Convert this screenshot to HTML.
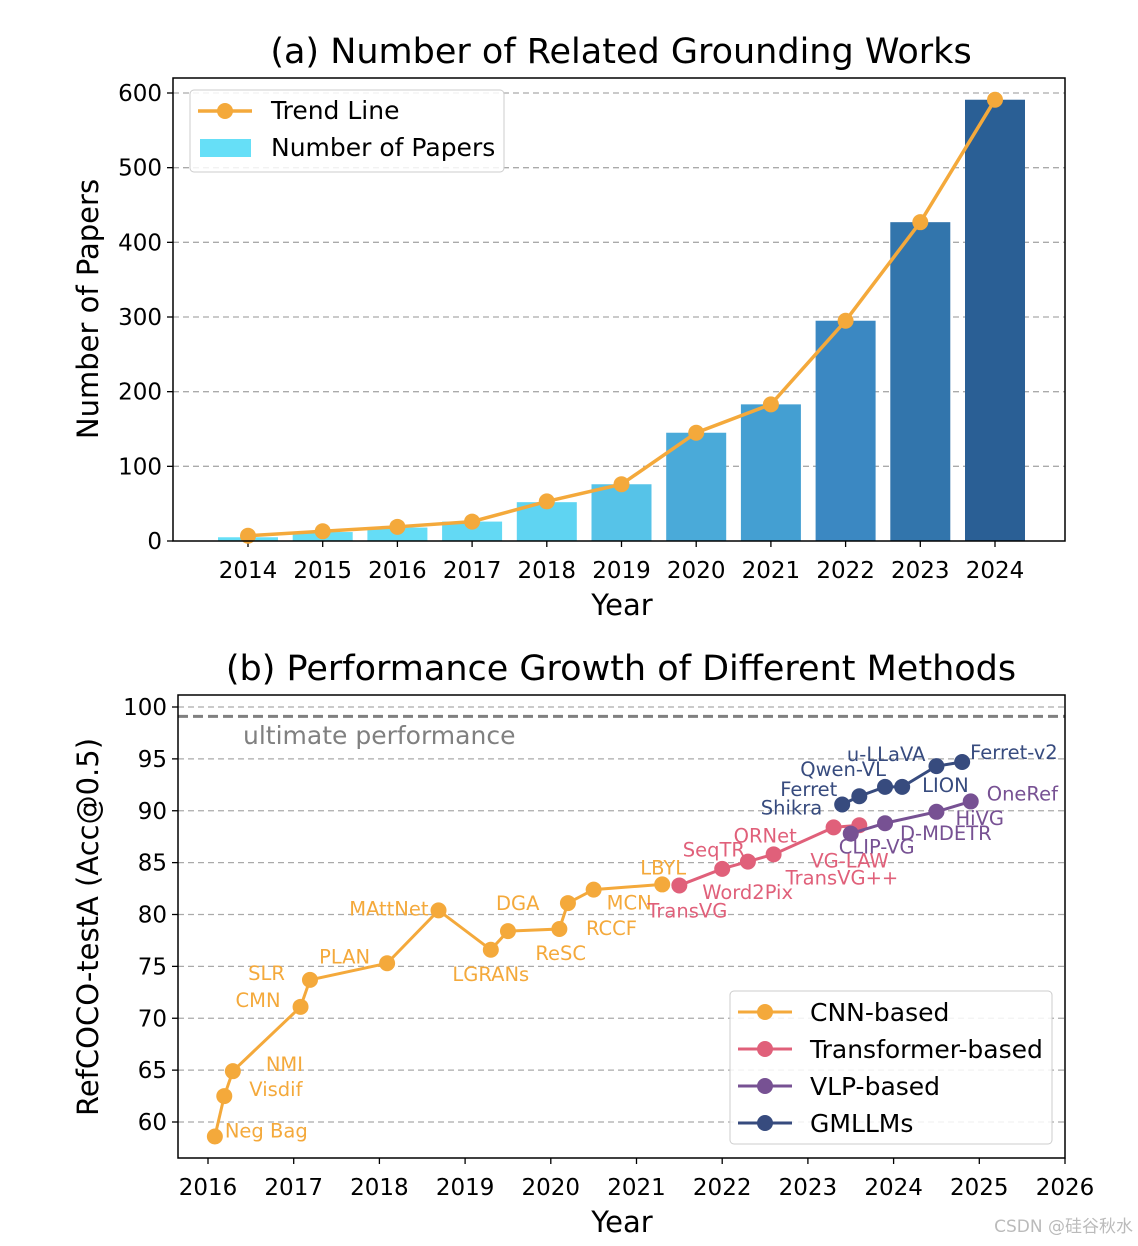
<!DOCTYPE html>
<html><head><meta charset="utf-8"><style>
body{margin:0;background:#fff}
svg{display:block;font-family:"DejaVu Sans","Liberation Sans",sans-serif}
</style></head><body>
<svg id="fig" width="1138" height="1246" viewBox="0 0 1138 1246">
<g id="ca"></g>
<g id="cb"></g>
<text x="1133" y="1232" text-anchor="end" font-size="17" fill="#bbb">CSDN @硅谷秋水</text>
</svg>
<script>
// ---- chart A data
const yearsA = [2014,2015,2016,2017,2018,2019,2020,2021,2022,2023,2024];
const papers = [5,12,18,26,52,76,145,183,295,427,591];
const trend = [7,13,19,26,53,76,145,183,295,427,591];
const ticksA = [0,100,200,300,400,500,600];
const barColors = ['#66dff7','#66dff7','#65ddf6','#63d9f4','#5fd4f2','#56c3e8','#4aaad9','#449fd2','#3b88c2','#3275ac','#2a5f95'];
// ---- chart B data
const cnnNames = ['Neg Bag','Visdif','NMI','CMN','SLR','PLAN','MAttNet','LGRANs','DGA','ReSC','RCCF','MCN','LBYL'];
const cnnX = [2016.08,2016.19,2016.29,2017.08,2017.19,2018.09,2018.69,2019.30,2019.50,2020.10,2020.20,2020.50,2021.30];
const cnnY = [58.6,62.5,64.9,71.1,73.7,75.3,80.4,76.6,78.4,78.6,81.1,82.4,82.9];
const trNames = ['TransVG','Word2Pix','SeqTR','ORNet','TransVG++','VG-LAW'];
const trX = [2021.50,2022.00,2022.30,2022.60,2023.30,2023.60];
const trY = [82.8,84.4,85.1,85.8,88.4,88.6];
const vlpNames = ['CLIP-VG','D-MDETR','HiVG','OneRef'];
const vlpX = [2023.50,2023.90,2024.50,2024.90];
const vlpY = [87.8,88.8,89.9,90.9];
const gmNames = ['Shikra','Ferret','Qwen-VL','LION','u-LLaVA','Ferret-v2'];
const gmX = [2023.40,2023.60,2023.90,2024.10,2024.50,2024.80];
const gmY = [90.6,91.4,92.3,92.3,94.3,94.7];
const ticksBX = [2016,2017,2018,2019,2020,2021,2022,2023,2024,2025,2026];
const ticksBY = [60,65,70,75,80,85,90,95,100];
const ultimate = 99.1;

const NS='http://www.w3.org/2000/svg';
function mk(parent,tag,attrs,text){const e=document.createElementNS(NS,tag);for(const k in attrs)e.setAttribute(k,attrs[k]);if(text!==undefined)e.textContent=text;parent.appendChild(e);return e;}
const TICK=23, AXT=29, TTL=35, LAB=19.5, LEG=25;

// ===== Chart A
const A=document.getElementById('ca');
const ax0=173,ax1=1065,ay0=78,ay1=541;
const xA=y=>248+(y-2014)*74.7;
const yA=v=>541-v*(448/600);
let e;
e=mk(A,'text',{x:621,y:63,'text-anchor':'middle','font-size':TTL},'(a) Number of Related Grounding Works');

ticksA.forEach(t=>{
  if(t>0){e=mk(A,'line',{x1:ax0,x2:ax1,y1:yA(t),y2:yA(t),stroke:'#aaa','stroke-dasharray':'6,4','stroke-width':1.3});
  }
  mk(A,'line',{x1:ax0-6,x2:ax0,y1:yA(t),y2:yA(t),stroke:'#000','stroke-width':1.3});
  e=mk(A,'text',{x:ax0-11,y:yA(t)+8,'text-anchor':'end','font-size':TICK},t);
  
});
yearsA.forEach((yr,i)=>{
  e=mk(A,'rect',{x:xA(yr)-30,y:yA(papers[i]),width:60,height:yA(0)-yA(papers[i]),fill:barColors[i]});
  
  mk(A,'line',{x1:xA(yr),x2:xA(yr),y1:ay1,y2:ay1+6,stroke:'#000','stroke-width':1.3});
  e=mk(A,'text',{x:xA(yr),y:578,'text-anchor':'middle','font-size':TICK},yr);
  
});
e=mk(A,'polyline',{points:yearsA.map((yr,i)=>xA(yr)+','+yA(trend[i])).join(' '),fill:'none',stroke:'#f4a93b','stroke-width':3.5});

yearsA.forEach((yr,i)=>{e=mk(A,'circle',{cx:xA(yr),cy:yA(trend[i]),r:8,fill:'#f4a93b'});
  });
e=mk(A,'rect',{x:ax0,y:ay0,width:ax1-ax0,height:ay1-ay0,fill:'none',stroke:'#000','stroke-width':1.5});

e=mk(A,'text',{x:622,y:615,'text-anchor':'middle','font-size':AXT},'Year');

e=mk(A,'text',{x:0,y:0,'text-anchor':'middle','font-size':AXT,transform:'translate(98,309) rotate(-90)'},'Number of Papers');

// legend A
const lgA=mk(A,'g',{});

mk(lgA,'rect',{x:190,y:90,width:314,height:82,rx:4,fill:'#fff','fill-opacity':0.85,stroke:'#ccc'});
mk(lgA,'line',{x1:198,x2:252,y1:111,y2:111,stroke:'#f4a93b','stroke-width':3.5});
mk(lgA,'circle',{cx:225,cy:111,r:8,fill:'#f4a93b'});
mk(lgA,'text',{x:271,y:119,'font-size':LEG},'Trend Line');
mk(lgA,'rect',{x:200,y:139,width:51,height:18,fill:'#66dff7'});
mk(lgA,'text',{x:271,y:156,'font-size':LEG},'Number of Papers');

// ===== Chart B
const B=document.getElementById('cb');
const bx0=178,bx1=1065,by0=695,by1=1158;
const xB=y=>208+(y-2016)*85.7;
const yB=v=>707+(100-v)*10.375;
e=mk(B,'text',{x:621,y:680,'text-anchor':'middle','font-size':TTL},'(b) Performance Growth of Different Methods');

ticksBY.forEach(t=>{
  e=mk(B,'line',{x1:bx0,x2:bx1,y1:yB(t),y2:yB(t),stroke:'#aaa','stroke-dasharray':'6,4','stroke-width':1.3});
  
  mk(B,'line',{x1:bx0-6,x2:bx0,y1:yB(t),y2:yB(t),stroke:'#000','stroke-width':1.3});
  e=mk(B,'text',{x:bx0-11,y:yB(t)+8,'text-anchor':'end','font-size':TICK},t);
  
});
ticksBX.forEach(t=>{
  mk(B,'line',{x1:xB(t),x2:xB(t),y1:by1,y2:by1+6,stroke:'#000','stroke-width':1.3});
  e=mk(B,'text',{x:xB(t),y:1195,'text-anchor':'middle','font-size':TICK},t);
  
});
e=mk(B,'line',{x1:bx0,x2:bx1,y1:yB(ultimate),y2:yB(ultimate),stroke:'#808080','stroke-dasharray':'10,5','stroke-width':3});

e=mk(B,'text',{x:243,y:744,'font-size':LEG,fill:'#808080'},'ultimate performance');

// label offsets [dx,dy,anchor]
const offs={'Neg Bag':[10,1,'start'],'Visdif':[25,0,'start'],'NMI':[33,0,'start'],'CMN':[-20,0,'end'],'SLR':[-25,0,'end'],'PLAN':[-17,0,'end'],'MAttNet':[-10,5,'end'],'LGRANs':[0,31,'middle'],'DGA':[-12,-21,'start'],'ReSC':[-24,31,'start'],'RCCF':[18,32,'start'],'MCN':[13,20,'start'],'LBYL':[-22,-10,'start'],
'TransVG':[-32,32,'start'],'Word2Pix':[-20,30,'start'],'SeqTR':[-3,-5,'end'],'ORNet':[-40,-12,'start'],'TransVG++':[-48,57,'start'],'VG-LAW':[-49,42,'start'],
'CLIP-VG':[-12,20,'start'],'D-MDETR':[15,17,'start'],'HiVG':[19,13,'start'],'OneRef':[16,-1,'start'],
'Shikra':[-20,10,'end'],'Ferret':[-22,0,'end'],'Qwen-VL':[1,-11,'end'],'LION':[20,5,'start'],'u-LLaVA':[-11,-5,'end'],'Ferret-v2':[8,-3,'start']};
function series(names,xs,ys,color,key){
  const g=mk(B,'g',{});
  
  mk(g,'polyline',{points:xs.map((x,i)=>xB(x)+','+yB(ys[i])).join(' '),fill:'none',stroke:color,'stroke-width':3});
  xs.forEach((x,i)=>{
    const c=mk(g,'circle',{cx:xB(x),cy:yB(ys[i]),r:8,fill:color});
    
    
    const o=offs[names[i]]||[8,0,'start'];
    const t=mk(g,'text',{x:xB(x)+o[0],y:yB(ys[i])+o[1],'text-anchor':o[2],'font-size':LAB,fill:color},names[i]);
    
    
  });
}
series(cnnNames,cnnX,cnnY,'#f4a93b','cnn');
series(trNames,trX,trY,'#e0607a','transformer');
series(vlpNames,vlpX,vlpY,'#775193','vlp');
series(gmNames,gmX,gmY,'#374b7e','gmllm');
e=mk(B,'rect',{x:bx0,y:by0,width:bx1-bx0,height:by1-by0,fill:'none',stroke:'#000','stroke-width':1.5});

e=mk(B,'text',{x:622,y:1232,'text-anchor':'middle','font-size':AXT},'Year');

e=mk(B,'text',{x:0,y:0,'text-anchor':'middle','font-size':AXT,transform:'translate(98,927) rotate(-90)'},'RefCOCO-testA (Acc@0.5)');

const lgB=mk(B,'g',{});

mk(lgB,'rect',{x:730,y:991,width:322,height:153,rx:4,fill:'#fff','fill-opacity':0.85,stroke:'#ccc'});
[['CNN-based','#f4a93b'],['Transformer-based','#e0607a'],['VLP-based','#775193'],['GMLLMs','#374b7e']].forEach((it,i)=>{
  const y=1012+i*37;
  mk(lgB,'line',{x1:738,x2:792,y1:y,y2:y,stroke:it[1],'stroke-width':3});
  mk(lgB,'circle',{cx:765,cy:y,r:8,fill:it[1]});
  mk(lgB,'text',{x:810,y:y+9,'font-size':LEG},it[0]);
});
</script>
</body></html>
